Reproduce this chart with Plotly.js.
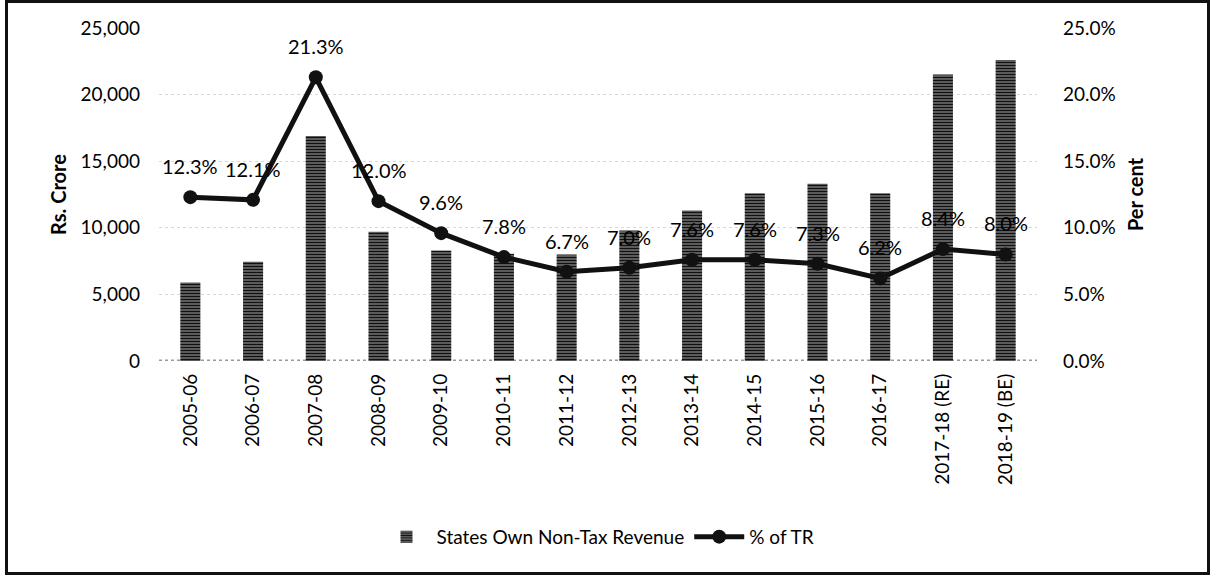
<!DOCTYPE html>
<html>
<head>
<meta charset="utf-8">
<script src="https://cdn.plot.ly/plotly-3.0.1.min.js"></script>
<style>
  body { margin: 0; background: #fff; }
  #chart { width: 1213px; height: 577px; position: relative; }
  #frame { position: absolute; left: 5px; top: 0px; width: 1199px; height: 569px; border: 3px solid #111; pointer-events: none; }
</style>
</head>
<body>
<div id="chart"></div>
<div id="frame"></div>
<script>
// years on the x axis
const years = ['2005-06', '2006-07', '2007-08', '2008-09', '2009-10', '2010-11', '2011-12',
               '2012-13', '2013-14', '2014-15', '2015-16', '2016-17', '2017-18 (RE)', '2018-19 (BE)'];
// States own non-tax revenue, Rs. crore
const nonTaxRevenue = [5900, 7450, 16900, 9700, 8300, 8050, 8000, 9800, 11300, 12600, 13300, 12600, 21500, 22600];
// share of total revenue, per cent
const pctOfTR = [12.3, 12.1, 21.3, 12.0, 9.6, 7.8, 6.7, 7.0, 7.6, 7.6, 7.3, 6.2, 8.4, 8.0];

const FONT = 'Lato, "Open Sans", sans-serif';
const INK = '#000';

const barTrace = {
    type: 'bar',
    x: years, y: nonTaxRevenue,
    name: 'States Own Non-Tax Revenue',
    width: 0.32,
    marker: {
        color: '#a8a8a8',
        pattern: { shape: '-', fgcolor: '#111', bgcolor: '#b4b4b4', size: 3, solidity: 0.7 }
    },
    hoverinfo: 'x+y'
};

const lineTrace = {
    type: 'scatter',
    mode: 'lines+markers',
    x: years, y: pctOfTR,
    yaxis: 'y2',
    name: '% of TR',
    line: { color: '#111', width: 5 },
    marker: { color: '#111', size: 14 }
};

// data labels above each point
const labels = years.map((yr, i) => ({
    x: yr, y: pctOfTR[i], xref: 'x', yref: 'y2',
    text: pctOfTR[i].toFixed(1) + '%',
    showarrow: false, yshift: 31,
    font: { family: FONT, size: 20, color: INK }
}));

const layout = {
    width: 1213, height: 577,
    paper_bgcolor: '#fff', plot_bgcolor: '#fff',
    margin: { l: 159, r: 176, t: 28, b: 216 },
    font: { family: FONT, size: 19, color: INK },
    showlegend: true,
    legend: {
        orientation: 'h', x: 0.5, xanchor: 'center', y: -0.528, yanchor: 'middle',
        font: { family: FONT, size: 19, color: INK }, itemwidth: 50
    },
    xaxis: {
        type: 'category',
        range: [-0.5, years.length - 0.5],
        tickangle: -90,
        ticks: '', showgrid: false, zeroline: false, showline: false,
        ticklabelstandoff: 8,
        tickfont: { family: FONT, size: 19, color: INK },
        automargin: false
    },
    yaxis: {
        range: [0, 25000], dtick: 5000, tickformat: ',',
        ticks: '', showline: false, zeroline: false,
        gridcolor: '#d8d8d8', griddash: 'dot', gridwidth: 1,
        ticklabelstandoff: 18,
        tickfont: { family: FONT, size: 19, color: INK },
        title: { text: '<b>Rs. Crore</b>', font: { family: FONT, size: 20, color: INK }, standoff: 8 },
        automargin: false
    },
    yaxis2: {
        overlaying: 'y', side: 'right',
        range: [0, 25], dtick: 5, tickformat: '.1f', ticksuffix: '%',
        ticks: '', showline: false, zeroline: false, showgrid: false,
        ticklabelstandoff: 25,
        tickfont: { family: FONT, size: 19, color: INK },
        title: { text: '<b>Per cent</b>', font: { family: FONT, size: 20, color: INK }, standoff: 14 },
        automargin: false
    },
    shapes: [
        // dotted grey base line
        { type: 'line', xref: 'paper', yref: 'y', x0: 0, x1: 1, y0: 0, y1: 0,
          line: { color: '#9a9a9a', width: 3, dash: 'dot' }, layer: 'below' }
    ],
    annotations: labels
};

Plotly.newPlot('chart', [barTrace, lineTrace], layout, { displayModeBar: false, staticPlot: true });
</script>
</body>
</html>
